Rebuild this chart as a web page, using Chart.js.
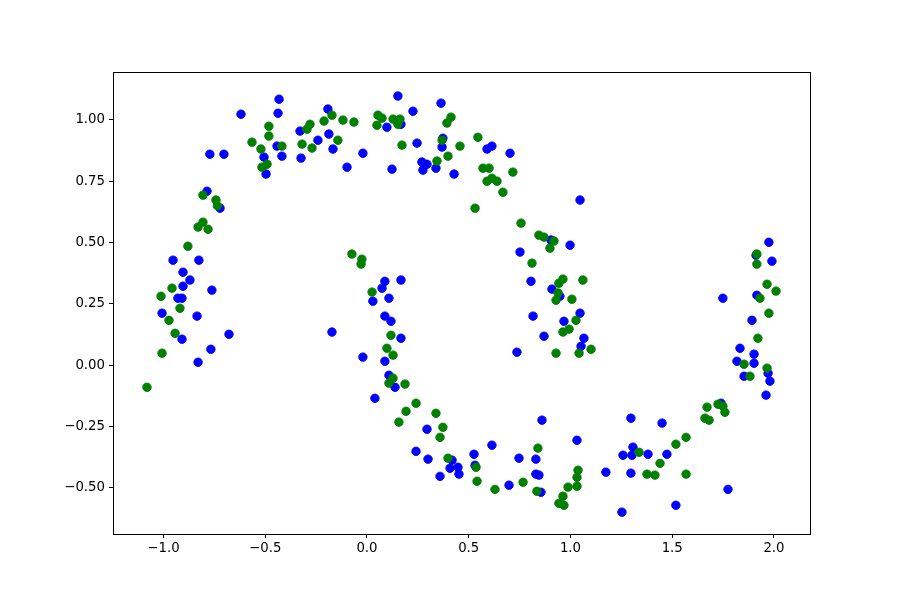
<!DOCTYPE html>
<html>
<head>
<meta charset="utf-8">
<script src="https://cdn.jsdelivr.net/npm/chart.js@4.4.0/dist/chart.umd.min.js"></script>
<style>
  html, body { margin: 0; padding: 0; background: #fff; }
  #wrap { width: 900px; height: 600px; }
</style>
</head>
<body>
<div id="wrap"><canvas id="c" width="900" height="600"></canvas></div>
<script>
// Class A (blue) points: x and y
const blueX = [-0.772,-0.703,-0.506,-0.418,-0.496,-0.786,-0.722,-0.953,-0.826,-0.904,-0.870,-0.904,-0.762,-0.929,-0.909,-1.007,-0.835,-0.909,-0.678,-0.767,-0.830,
  -0.619,-0.432,-0.437,-0.442,-0.329,-0.324,-0.241,-0.192,-0.187,-0.167,-0.098,-0.020,0.152,0.364,0.226,0.098,0.167,0.246,0.373,0.369,0.590,0.614,0.703,
  0.270,0.295,0.275,0.339,0.428,0.123,1.047,0.904,0.998,0.752,0.806,0.909,0.948,0.816,1.047,0.968,0.870,1.066,1.052,0.737,
  0.088,0.167,0.074,0.029,0.108,0.088,0.118,-0.172,0.167,-0.020,0.088,0.108,0.138,0.039,0.295,0.241,0.300,0.418,0.408,0.447,0.452,0.359,0.526,0.531,0.614,0.747,0.698,
  0.860,1.032,0.830,0.830,0.845,0.855,1.174,1.297,1.307,1.258,1.302,1.381,1.297,1.253,1.450,1.474,1.740,1.774,1.518,
  1.975,1.912,1.990,1.916,1.749,1.892,1.833,1.902,1.818,1.902,1.971,1.853,1.980,1.961];
const blueY = [0.860,0.860,0.848,0.852,0.779,0.709,0.640,0.428,0.428,0.379,0.347,0.322,0.306,0.273,0.273,0.212,0.200,0.106,0.126,0.065,0.012,
  1.023,1.084,1.027,0.893,0.954,0.844,0.917,1.044,0.942,0.881,0.807,0.864,1.097,1.068,1.035,0.970,0.982,0.905,0.925,0.889,0.881,0.893,0.864,
  0.828,0.819,0.795,0.803,0.779,0.799,0.673,0.510,0.489,0.461,0.342,0.310,0.281,0.200,0.212,0.179,0.118,0.110,0.077,0.053,
  0.342,0.347,0.314,0.261,0.273,0.200,0.179,0.135,0.110,0.033,0.016,-0.041,-0.090,-0.135,-0.261,-0.351,-0.383,-0.387,-0.420,-0.416,-0.444,-0.453,-0.363,-0.408,-0.326,-0.379,-0.489,
  -0.224,-0.306,-0.383,-0.444,-0.448,-0.518,-0.436,-0.216,-0.334,-0.367,-0.367,-0.363,-0.440,-0.599,-0.236,-0.363,-0.155,-0.506,-0.571,
  0.501,0.448,0.424,0.285,0.273,0.183,0.069,0.045,0.016,0.008,-0.033,-0.045,-0.065,-0.122];

// Class B (green) points: x and y
const greenX = [-0.491,-0.516,-0.806,-0.742,-0.735,-0.806,-0.830,-0.781,-0.880,-0.958,-1.012,-0.919,-0.973,-0.943,-1.007,-1.081,
  -0.482,-0.482,-0.565,-0.521,-0.418,-0.295,-0.280,-0.319,-0.270,-0.172,-0.211,-0.143,-0.118,-0.064,0.054,0.074,0.049,0.128,0.162,0.152,0.413,0.393,0.172,0.369,0.457,0.545,
  0.570,0.600,0.590,0.614,0.639,0.717,0.668,0.344,0.398,0.531,0.757,0.845,0.870,0.919,0.899,0.811,0.943,0.963,1.061,0.939,0.929,1.007,1.027,0.993,0.963,1.101,0.929,1.042,
  -0.074,-0.025,-0.029,0.025,0.118,0.098,0.128,0.128,0.108,0.187,0.241,0.192,0.339,0.157,0.373,0.359,0.398,0.536,0.541,0.629,0.767,0.840,0.835,
  1.037,1.032,1.032,0.988,0.963,0.943,0.968,1.337,1.376,1.415,1.440,1.518,1.568,1.568,1.671,1.725,1.749,1.759,1.661,1.681,
  1.916,1.916,1.966,2.010,1.931,1.975,1.921,1.853,1.966,1.882];
const greenY = [0.819,0.807,0.693,0.673,0.650,0.583,0.563,0.554,0.485,0.314,0.281,0.232,0.183,0.130,0.049,-0.090,
  0.974,0.934,0.909,0.881,0.893,0.962,0.982,0.901,0.885,1.019,0.995,0.917,0.999,0.991,1.019,1.007,0.978,1.003,1.003,0.982,1.011,0.987,0.897,0.917,0.893,0.929,
  0.803,0.803,0.750,0.762,0.750,0.787,0.705,0.832,0.852,0.640,0.579,0.530,0.522,0.506,0.477,0.416,0.334,0.351,0.347,0.294,0.265,0.269,0.183,0.147,0.135,0.065,0.049,0.049,
  0.453,0.432,0.412,0.298,0.122,0.069,0.041,-0.053,-0.073,-0.077,-0.155,-0.188,-0.196,-0.232,-0.253,-0.294,-0.379,-0.416,-0.473,-0.506,-0.477,-0.338,-0.514,
  -0.428,-0.457,-0.493,-0.497,-0.534,-0.563,-0.571,-0.355,-0.444,-0.448,-0.400,-0.322,-0.294,-0.444,-0.171,-0.159,-0.167,-0.192,-0.216,-0.224,
  0.453,0.412,0.330,0.302,0.273,0.212,0.110,0.004,-0.012,-0.045];

// Tick values and labels
const xTickValues = [-1.0, -0.5, 0.0, 0.5, 1.0, 1.5, 2.0];
const xTickLabels = ['\u22121.0', '\u22120.5', '0.0', '0.5', '1.0', '1.5', '2.0'];
const yTickValues = [-0.50, -0.25, 0.00, 0.25, 0.50, 0.75, 1.00];
const yTickLabels = ['\u22120.50', '\u22120.25', '0.00', '0.25', '0.50', '0.75', '1.00'];

const toPts = (xs, ys) => xs.map((x, i) => ({ x: x, y: ys[i] }));

const framePlugin = {
  id: 'frame',
  afterDraw(chart) {
    const a = chart.chartArea, ctx = chart.ctx;
    ctx.save();
    ctx.strokeStyle = '#000';
    ctx.lineWidth = 1;
    ctx.strokeRect(Math.round(a.left) + 0.5, Math.round(a.top) + 0.5,
                   Math.round(a.right - a.left), Math.round(a.bottom - a.top));
    ctx.restore();
  }
};

const tickFont = { family: 'DejaVu Sans', size: 13.3 };

new Chart(document.getElementById('c'), {
  type: 'scatter',
  data: {
    datasets: [
      { label: 'blue', data: toPts(blueX, blueY), backgroundColor: '#0000ff', borderColor: '#0000ff',
        borderWidth: 1, pointRadius: 4.2, pointHoverRadius: 4.2, order: 2 },
      { label: 'green', data: toPts(greenX, greenY), backgroundColor: '#008000', borderColor: '#008000',
        borderWidth: 1, pointRadius: 4.2, pointHoverRadius: 4.2, order: 1 }
    ]
  },
  options: {
    responsive: false,
    animation: false,
    events: [],
    layout: { padding: { top: 72, right: 90, left: 0, bottom: 0 } },
    plugins: { legend: { display: false }, tooltip: { enabled: false } },
    scales: {
      x: {
        type: 'linear', min: -1.248, max: 2.177,
        afterFit(s) { s.height = 66; },
        afterBuildTicks(s) { s.ticks = xTickValues.map(v => ({ value: v })); },
        ticks: {
          color: '#000', font: tickFont, padding: 3, autoSkip: false, maxRotation: 0,
          callback(v) { const i = xTickValues.findIndex(t => Math.abs(t - v) < 1e-9); return i >= 0 ? xTickLabels[i] : ''; }
        },
        grid: { drawOnChartArea: false, drawTicks: true, tickLength: 4, color: '#000', lineWidth: 1 },
        border: { display: true, color: '#000', width: 1 }
      },
      y: {
        type: 'linear', min: -0.688, max: 1.195,
        afterFit(s) { s.width = 113; },
        afterBuildTicks(s) { s.ticks = yTickValues.map(v => ({ value: v })); },
        ticks: {
          color: '#000', font: tickFont, padding: 4, autoSkip: false,
          callback(v) { const i = yTickValues.findIndex(t => Math.abs(t - v) < 1e-9); return i >= 0 ? yTickLabels[i] : ''; }
        },
        grid: { drawOnChartArea: false, drawTicks: true, tickLength: 4, color: '#000', lineWidth: 1 },
        border: { display: true, color: '#000', width: 1 }
      }
    }
  },
  plugins: [framePlugin]
});
</script>
</body>
</html>
